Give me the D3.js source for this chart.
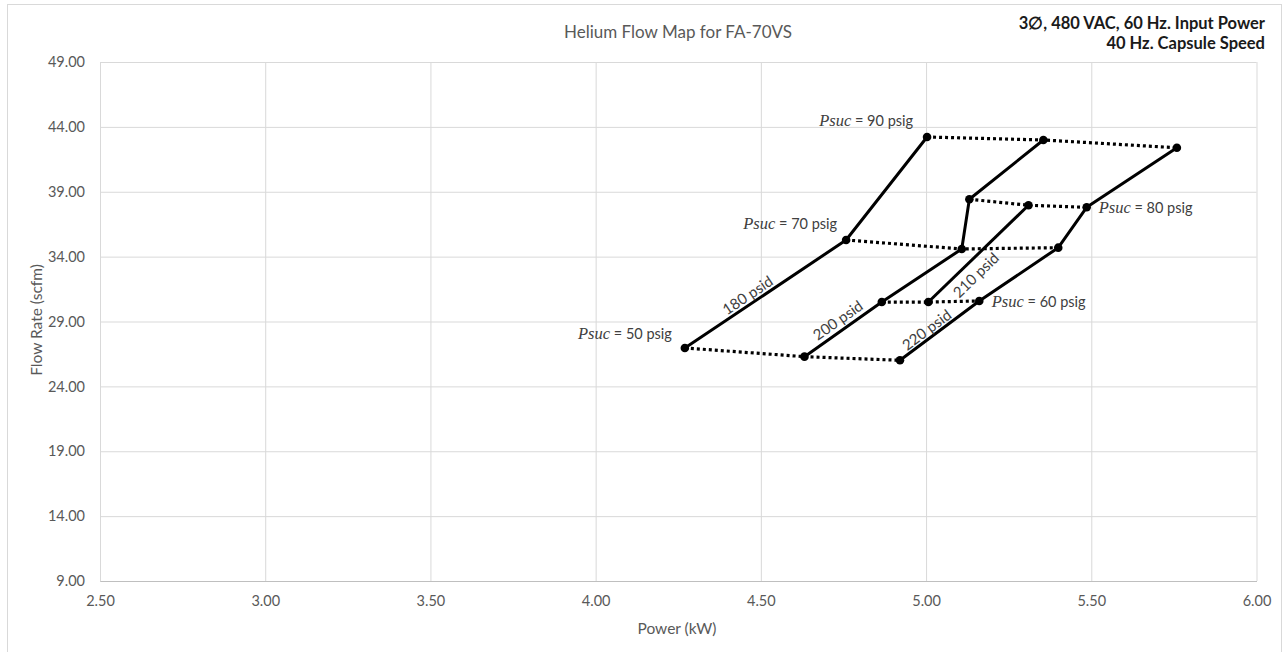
<!DOCTYPE html>
<html>
<head>
<meta charset="utf-8">
<script src="https://cdn.jsdelivr.net/npm/d3@7"></script>
<style>
  body { margin: 0; background: #fff; }
  text { font-family: Lato, "Noto Sans", sans-serif; }
</style>
</head>
<body>
<div id="chart"></div>
<script>
// discharge pressure lines (psid) – each point is tagged with its suction pressure
const psidNames = ["180 psid", "200 psid", "210 psid", "220 psid"];
const psucAt = [
  [50, 70, 90],
  [50, 60, 70, 80, 90],
  [60, 80],
  [50, 60, 70, 80, 90]
];
const powerKW = [
  [4.27, 4.758, 5.003],
  [4.632, 4.866, 5.108, 5.131, 5.355],
  [5.007, 5.31],
  [4.921, 5.161, 5.40, 5.486, 5.759]
];
const flowScfm = [
  [26.96, 35.28, 43.22],
  [26.29, 30.50, 34.59, 38.42, 42.99],
  [30.50, 37.96],
  [26.01, 30.58, 34.69, 37.80, 42.39]
];
const psucLevels = [50, 60, 70, 80, 90];
const xTicks = [2.5, 3.0, 3.5, 4.0, 4.5, 5.0, 5.5, 6.0];
const yTicks = [9, 14, 19, 24, 29, 34, 39, 44, 49];

const W = 1288, H = 652;
const plot = { left: 100, right: 1256.5, top: 62, bottom: 581 };

const svg = d3.select("#chart").append("svg")
  .attr("width", W)
  .attr("height", H);

// outer chart border
svg.append("rect")
  .attr("x", 7.5).attr("y", 4.5)
  .attr("width", 1274).attr("height", 700)
  .attr("fill", "none")
  .attr("stroke", "#d9d9d9");

const x = d3.scaleLinear().domain([2.5, 6]).range([plot.left, plot.right]);
const y = d3.scaleLinear().domain([9, 49]).range([plot.bottom, plot.top]);

// gridlines
svg.append("g")
  .attr("class", "grid")
  .attr("transform", "translate(0," + plot.bottom + ")")
  .call(d3.axisBottom(x).tickValues(xTicks).tickSize(-(plot.bottom - plot.top)).tickFormat(""))
  .call(g => g.select(".domain").remove())
  .call(g => g.selectAll("line").attr("stroke", "#d9d9d9"));

svg.append("g")
  .attr("class", "grid")
  .attr("transform", "translate(" + plot.left + ",0)")
  .call(d3.axisLeft(y).tickValues(yTicks).tickSize(-(plot.right - plot.left)).tickFormat(""))
  .call(g => g.select(".domain").remove())
  .call(g => g.selectAll("line").attr("stroke", "#d9d9d9"));

// axes
svg.append("g")
  .attr("transform", "translate(0," + plot.bottom + ")")
  .call(d3.axisBottom(x).tickValues(xTicks).tickSize(0).tickPadding(15).tickFormat(d3.format(".2f")))
  .call(g => g.select(".domain").attr("stroke", "#bfbfbf"))
  .call(g => g.selectAll("text").attr("fill", "#595959").style("font-size", "14.5px").style("font-family", "Lato"));

svg.append("g")
  .attr("transform", "translate(" + plot.left + ",0)")
  .call(d3.axisLeft(y).tickValues(yTicks).tickSize(0).tickPadding(15).tickFormat(d3.format(".2f")))
  .call(g => g.select(".domain").remove())
  .call(g => g.selectAll("text").attr("fill", "#595959").style("font-size", "14.5px").style("font-family", "Lato"));

// titles
svg.append("text")
  .attr("x", 678).attr("y", 38)
  .attr("text-anchor", "middle")
  .attr("fill", "#595959")
  .style("font-size", "17px")
  .text("Helium Flow Map for FA-70VS");

svg.append("text")
  .attr("x", 1265).attr("y", 29)
  .attr("text-anchor", "end")
  .attr("fill", "#1a1a1a")
  .style("font-size", "16.5px").style("font-weight", "bold")
  .text("3\u2205, 480 VAC, 60 Hz. Input Power");

svg.append("text")
  .attr("x", 1265).attr("y", 49)
  .attr("text-anchor", "end")
  .attr("fill", "#1a1a1a")
  .style("font-size", "16.5px").style("font-weight", "bold")
  .text("40 Hz. Capsule Speed");

svg.append("text")
  .attr("x", 677).attr("y", 634)
  .attr("text-anchor", "middle")
  .attr("fill", "#595959")
  .style("font-size", "15.5px")
  .text("Power (kW)");

svg.append("text")
  .attr("transform", "translate(42,320) rotate(-90)")
  .attr("text-anchor", "middle")
  .attr("fill", "#595959")
  .style("font-size", "15.5px")
  .text("Flow Rate (scfm)");

// build point lists
const psidLines = psidNames.map((name, i) => ({
  name: name,
  pts: powerKW[i].map((p, j) => ({ power: p, flow: flowScfm[i][j], psuc: psucAt[i][j] }))
}));

const allPts = psidLines.flatMap(l => l.pts);
const psucLines = psucLevels.map(level => ({
  psuc: level,
  pts: allPts.filter(d => d.psuc === level).sort((a, b) => a.power - b.power)
}));

const line = d3.line().x(d => x(d.power)).y(d => y(d.flow));

// constant suction pressure lines (dotted)
svg.append("g").selectAll("path")
  .data(psucLines)
  .join("path")
  .attr("d", d => line(d.pts))
  .attr("fill", "none")
  .attr("stroke", "#000")
  .attr("stroke-width", 3.2)
  .attr("stroke-dasharray", "3,3");

// constant differential pressure lines (solid)
svg.append("g").selectAll("path")
  .data(psidLines)
  .join("path")
  .attr("d", d => line(d.pts))
  .attr("fill", "none")
  .attr("stroke", "#000")
  .attr("stroke-width", 3)
  .attr("stroke-linejoin", "round");

svg.append("g").selectAll("circle")
  .data(allPts)
  .join("circle")
  .attr("cx", d => x(d.power))
  .attr("cy", d => y(d.flow))
  .attr("r", 4.3)
  .attr("fill", "#000");

// psid labels along the first segment of each line
const psidLabelPos = [
  { t: 0.42, off: 9.5 },
  { t: 0.51, off: 11 },
  { t: 0.38, off: -13 },
  { t: 0.40, off: 9 }
];

psidLines.forEach((l, i) => {
  const a = l.pts[0], b = l.pts[1];
  const x0 = x(a.power), y0 = y(a.flow), x1 = x(b.power), y1 = y(b.flow);
  const dx = x1 - x0, dy = y1 - y0, len = Math.hypot(dx, dy);
  const nx = dy / len, ny = -dx / len;
  const pos = psidLabelPos[i];
  const cx = x0 + dx * pos.t + nx * pos.off;
  const cy = y0 + dy * pos.t + ny * pos.off;
  const ang = Math.atan2(dy, dx) * 180 / Math.PI;
  svg.append("text")
    .attr("transform", "translate(" + cx + "," + cy + ") rotate(" + ang + ")")
    .attr("text-anchor", "middle")
    .attr("dominant-baseline", "central")
    .attr("fill", "#404040")
    .style("font-size", "15px")
    .text(l.name);
});

// Psuc labels at the end of each dotted line
const psucLabelPos = {
  50: { side: "left", dx: -13, dy: -9 },
  60: { side: "right", dx: 12.5, dy: 6 },
  70: { side: "left", dx: -9, dy: -11 },
  80: { side: "right", dx: 12, dy: 6 },
  90: { side: "left", dx: -14, dy: -11 }
};

psucLines.forEach(l => {
  const pos = psucLabelPos[l.psuc];
  const p = pos.side === "left" ? l.pts[0] : l.pts[l.pts.length - 1];
  const t = svg.append("text")
    .attr("x", x(p.power) + pos.dx)
    .attr("y", y(p.flow) + pos.dy)
    .attr("text-anchor", pos.side === "left" ? "end" : "start")
    .attr("fill", "#404040")
    .style("font-size", "14.5px");
  t.append("tspan")
    .style("font-family", "'Liberation Serif', serif")
    .style("font-style", "italic")
    .style("font-size", "16.5px")
    .text("Psuc");
  t.append("tspan").text(" = " + l.psuc + " psig");
});
</script>
</body>
</html>
